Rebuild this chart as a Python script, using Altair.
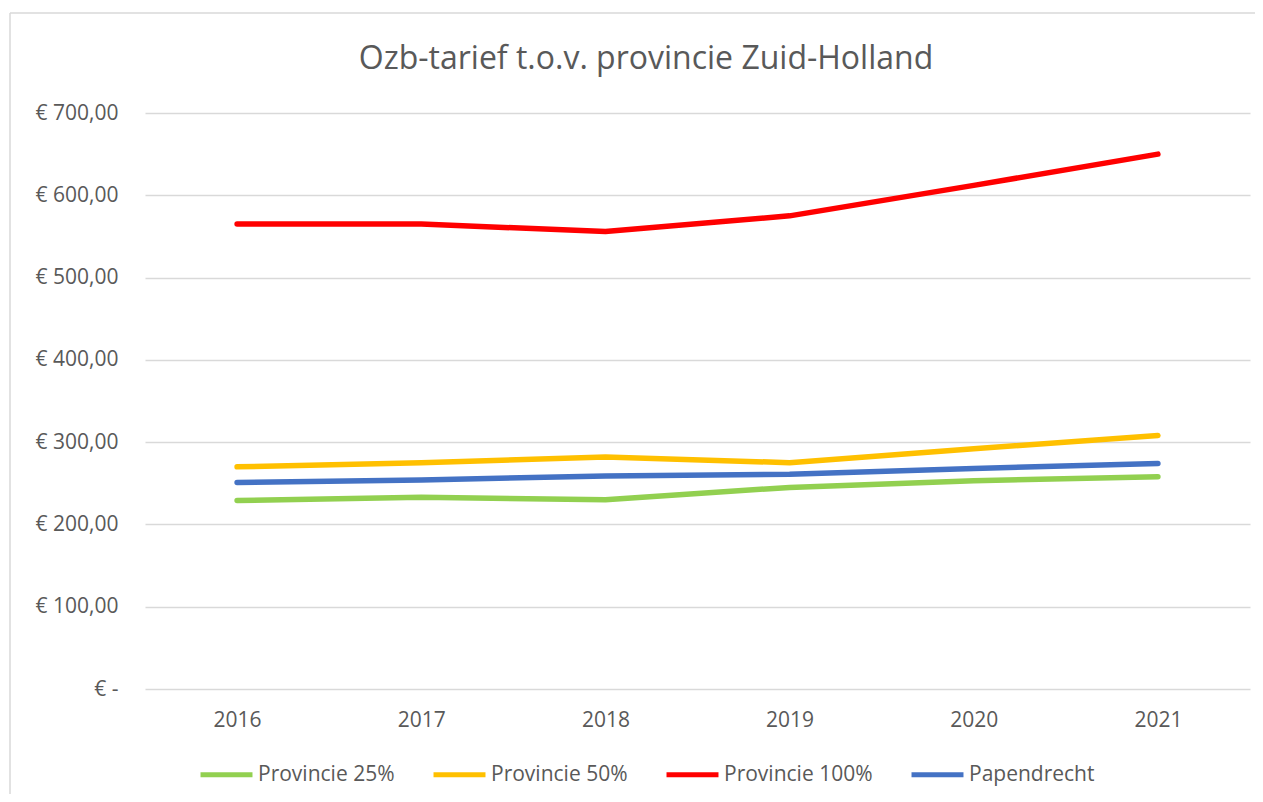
import altair as alt
import pandas as pd

years = ["2016", "2017", "2018", "2019", "2020", "2021"]
series_names = ["Provincie 25%", "Provincie 50%", "Provincie 100%", "Papendrecht"]
provincie_25 = [229, 233, 230, 245, 253, 258]
provincie_50 = [270, 275, 282, 275, 292, 308]
provincie_100 = [565, 565, 556, 575, 612, 650]
papendrecht = [251, 254, 259, 261, 268, 274]
series_colors = ["#92D050", "#FFC000", "#FF0000", "#4472C4"]
y_ticks = [0, 100, 200, 300, 400, 500, 600, 700]
title_text = ["Ozb-tarief t.o.v. provincie Zuid-Holland"]

rows = []
for name, vals in zip(series_names, [provincie_25, provincie_50, provincie_100, papendrecht]):
    for yr, v in zip(years, vals):
        rows.append({"Jaar": yr, "Tarief": v, "Reeks": name})
df = pd.DataFrame(rows)

FONT = "Open Sans"
TXT = "#595959"
GRID = "#D9D9D9"
FS = 21

lines = alt.Chart(df).mark_line(strokeWidth=5.5, strokeCap="round", strokeJoin="round").encode(
    x=alt.X("Jaar:O", sort=years, scale=alt.Scale(type="point", padding=0.5),
            axis=alt.Axis(title=None, labelAngle=0, domain=False, ticks=False, grid=False,
                          labelPadding=20, labelFontSize=FS, labelColor=TXT, labelFont=FONT)),
    y=alt.Y("Tarief:Q", scale=alt.Scale(domain=[0, 700]),
            axis=alt.Axis(title=None, values=y_ticks, domain=False, ticks=False, tickSize=0,
                          labelPadding=27, labelFontSize=FS, labelColor=TXT, labelFont=FONT,
                          gridColor=GRID, gridWidth=1.3,
                          labelExpr="datum.value == 0 ? '€ -\u00a0\u00a0\u00a0' : '€ ' + replace(format(datum.value, '.2f'), '.', ',')")),
    color=alt.Color("Reeks:N", sort=series_names,
                    scale=alt.Scale(domain=series_names, range=series_colors),
                    legend=alt.Legend(title=None, orient="none", legendX=53, legendY=633,
                                      direction="horizontal", symbolType="stroke",
                                      symbolSize=2700, symbolStrokeWidth=5,
                                      labelFont=FONT, labelFontSize=FS, labelColor=TXT,
                                      labelOffset=3, columnPadding=28, padding=0,
                                      labelLimit=300)),
)

border_df = pd.DataFrame({"b": [0]})
border_left = alt.Chart(border_df).mark_rule(stroke=GRID, strokeWidth=1.5).encode(
    x=alt.value(-135), y=alt.value(-100), y2=alt.value(800))
border_top = alt.Chart(border_df).mark_rule(stroke=GRID, strokeWidth=1.5).encode(
    x=alt.value(-135), x2=alt.value(1300), y=alt.value(-100))

title = alt.Chart(pd.DataFrame({"t": title_text})).mark_text(
    font=FONT, fontSize=32, color=TXT, align="center", baseline="alphabetic"
).encode(text="t:N", x=alt.value(501), y=alt.value(-44))

chart = alt.layer(border_left, border_top, lines, title).properties(
    width=1105,
    height=576,
    padding={"left": 137, "top": 105, "right": 5, "bottom": 105},
    autosize=alt.AutoSizeParams(type="none"),
).configure_view(stroke=None)

chart.save("out.html", embed_options={"renderer": "svg", "actions": False})
